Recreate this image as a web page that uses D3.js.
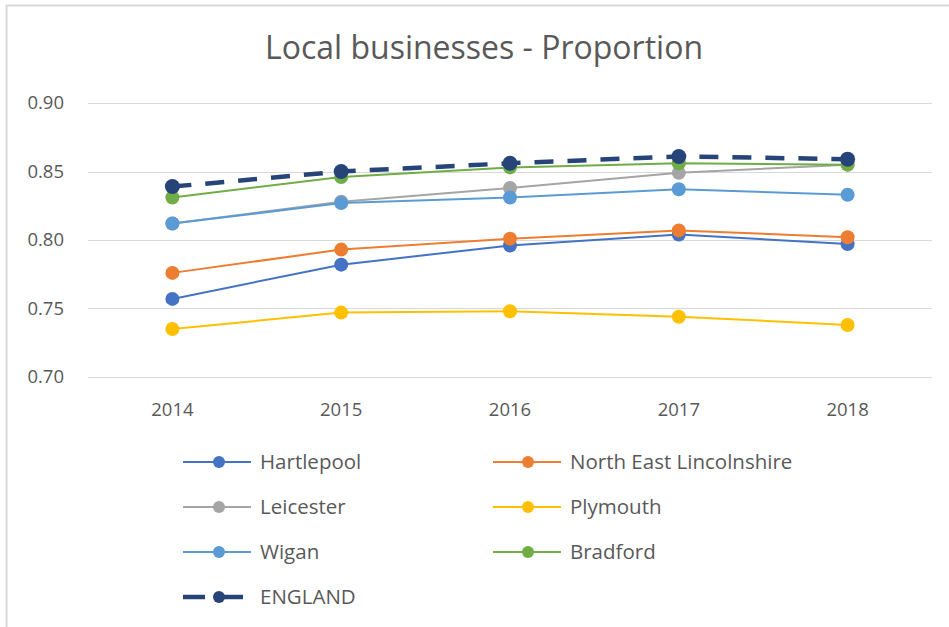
<!DOCTYPE html>
<html>
<head>
<meta charset="utf-8">
<script src="https://cdnjs.cloudflare.com/ajax/libs/d3/7.8.5/d3.min.js"></script>
<style>
body { margin: 0; background: #fff; font-family: "Open Sans", sans-serif; }
.grid line { stroke: #d9d9d9; stroke-width: 1; }
.tick text { fill: #595959; }
</style>
</head>
<body>
<svg width="949" height="627"></svg>
<script>
// categories and values
var years = ["2014", "2015", "2016", "2017", "2018"];
var yTicks = [0.70, 0.75, 0.80, 0.85, 0.90];

var hartlepool = [0.757, 0.782, 0.796, 0.804, 0.797];
var northEastLincs = [0.776, 0.793, 0.801, 0.807, 0.802];
var leicester = [0.812, 0.828, 0.838, 0.849, 0.855];
var plymouth = [0.735, 0.747, 0.748, 0.744, 0.738];
var wigan = [0.812, 0.827, 0.831, 0.837, 0.833];
var bradford = [0.831, 0.846, 0.853, 0.856, 0.855];
var england = [0.839, 0.850, 0.856, 0.861, 0.859];

var series = [
  {name: "Hartlepool", values: hartlepool, color: "#4472c4"},
  {name: "North East Lincolnshire", values: northEastLincs, color: "#ed7d31"},
  {name: "Leicester", values: leicester, color: "#a5a5a5"},
  {name: "Plymouth", values: plymouth, color: "#ffc000"},
  {name: "Wigan", values: wigan, color: "#5b9bd5"},
  {name: "Bradford", values: bradford, color: "#70ad47"},
  {name: "ENGLAND", values: england, color: "#264478", dashed: true}
];

var svg = d3.select("svg");

// outer frame
svg.append("path")
  .attr("d", "M6.5,627 V5.5 H949")
  .attr("fill", "none")
  .attr("stroke", "#d9d9d9")
  .attr("stroke-width", 2);

// title
svg.append("text")
  .attr("x", 484)
  .attr("y", 59)
  .attr("text-anchor", "middle")
  .style("font-size", "32px")
  .attr("fill", "#595959")
  .text("Local businesses - Proportion");

var x = d3.scaleBand()
  .domain(years)
  .range([88, 932]);

var y = d3.scaleLinear()
  .domain([0.70, 0.90])
  .range([377, 103]);

// horizontal gridlines
svg.append("g")
  .attr("class", "grid")
  .selectAll("line")
  .data(yTicks)
  .enter().append("line")
  .attr("x1", 88)
  .attr("x2", 932)
  .attr("y1", function(d) { return Math.round(y(d)) + 0.5; })
  .attr("y2", function(d) { return Math.round(y(d)) + 0.5; });

// y axis labels
var yAxis = d3.axisLeft(y)
  .tickValues(yTicks)
  .tickFormat(d3.format(".2f"))
  .tickSize(0)
  .tickPadding(24);
var gy = svg.append("g")
  .attr("transform", "translate(88,0)")
  .call(yAxis);
gy.select(".domain").remove();
gy.selectAll("text").style("font-size", "18.5px").style("font-family", "Open Sans");

// x axis labels
var xAxis = d3.axisBottom(x)
  .tickSize(0)
  .tickPadding(26);
var gx = svg.append("g")
  .attr("transform", "translate(0,377)")
  .call(xAxis);
gx.select(".domain").remove();
gx.selectAll("text").style("font-size", "18.5px").style("font-family", "Open Sans");

var line = d3.line()
  .x(function(d, i) { return x(years[i]) + x.bandwidth() / 2; })
  .y(function(d) { return y(d); });

var g = svg.append("g");

series.forEach(function(s) {
  g.append("path")
    .datum(s.values)
    .attr("d", line)
    .attr("fill", "none")
    .attr("stroke", s.color)
    .attr("stroke-width", s.dashed ? 4.5 : 2)
    .attr("stroke-dasharray", s.dashed ? "19,14" : null);

  g.selectAll(null)
    .data(s.values)
    .enter().append("circle")
    .attr("cx", function(d, i) { return x(years[i]) + x.bandwidth() / 2; })
    .attr("cy", function(d) { return y(d); })
    .attr("r", s.dashed ? 7.5 : 7)
    .attr("fill", s.color);
});

// legend, two columns
var legend = svg.append("g");
series.forEach(function(s, i) {
  var col = i % 2, row = Math.floor(i / 2);
  var lx = col === 0 ? 183 : 493;
  var ly = 462 + row * 45;
  var item = legend.append("g").attr("transform", "translate(" + lx + "," + ly + ")");
  if (s.dashed) {
    item.append("line").attr("x1", 0).attr("x2", 22).attr("y1", 0).attr("y2", 0)
      .attr("stroke", s.color).attr("stroke-width", 4.5);
    item.append("line").attr("x1", 31).attr("x2", 60).attr("y1", 0).attr("y2", 0)
      .attr("stroke", s.color).attr("stroke-width", 4.5);
  } else {
    item.append("line").attr("x1", 0).attr("x2", 68).attr("y1", 0).attr("y2", 0)
      .attr("stroke", s.color).attr("stroke-width", 2);
  }
  item.append("circle")
    .attr("cx", col === 0 ? 36 : 35)
    .attr("cy", 0)
    .attr("r", 6)
    .attr("fill", s.color);
  item.append("text")
    .attr("x", 77)
    .attr("y", 7)
    .style("font-size", "20.5px")
    .attr("fill", "#595959")
    .text(s.name);
});
</script>
</body>
</html>
